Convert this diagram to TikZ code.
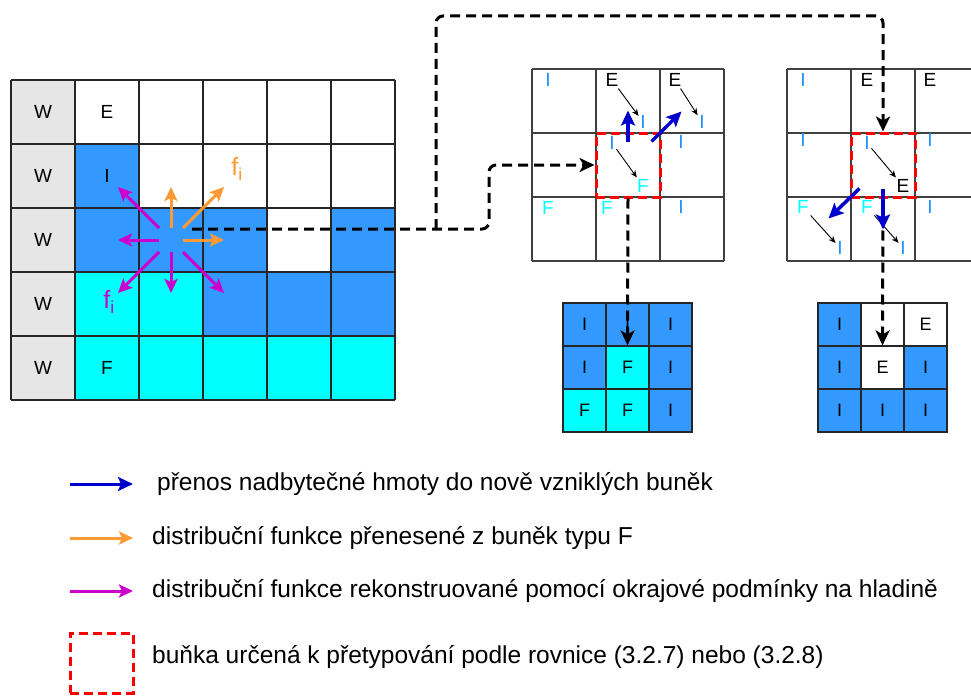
\documentclass[tikz,border=0pt]{standalone}
\usepackage{fontspec}
\setmainfont{Liberation Sans}
\usetikzlibrary{arrows.meta,calc}
\definecolor{wallgray}{HTML}{E6E6E6}
\definecolor{ifblue}{HTML}{3399FF}
\definecolor{fluidcyan}{HTML}{00FFFF}
\definecolor{lblblue}{HTML}{1E90FF}
\definecolor{massblue}{HTML}{0000CC}
\definecolor{distorange}{HTML}{FF9933}
\definecolor{distmagenta}{HTML}{CC00CC}
\tikzset{
  lbl/.style={inner sep=1pt, font=\fontsize{19}{22}\selectfont},
  smalllbl/.style={inner sep=1pt, font=\fontsize{19}{22}\selectfont},
  keytext/.style={anchor=west, inner sep=0pt, font=\fontsize{24.5}{28}\selectfont},
  bcell/.style={draw=black!85, line width=1.2pt, minimum size=43pt, inner sep=0pt, font=\fontsize{18}{21}\selectfont},
  redbox/.style={draw=red, line width=3pt, dash pattern=on 9pt off 5pt, minimum size=64pt, inner sep=0pt},
  flow/.style={line width=3pt, dash pattern=on 10pt off 6pt, rounded corners=7pt, -{Stealth[length=15pt,width=14pt,inset=4pt]}},
  orangearr/.style={distorange, line width=3pt, -{Stealth[length=14pt,width=13pt,inset=3pt]}},
  magarr/.style={distmagenta, line width=3pt, -{Stealth[length=14pt,width=13pt,inset=3pt]}},
  massarr/.style={massblue, line width=3.5pt, -{Stealth[length=15pt,width=14pt,inset=3pt]}},
  thinarr/.style={line width=0.9pt, shorten <=1pt, shorten >=1pt, -{Stealth[length=7pt,width=6pt]}}
}

\begin{document}
\begin{tikzpicture}[x=1pt, y=-1pt]
    \useasboundingbox (0,0) rectangle (971,698);
    \clip (0,0) rectangle (971,698);

    % left grid
    \fill[wallgray] (11,80) rectangle (75,400);
    \fill[ifblue] (75,144) rectangle (139,208);
    \fill[ifblue] (75,208) rectangle (267,272);
    \fill[ifblue] (331,208) rectangle (395,272);
    \fill[fluidcyan] (75,272) rectangle (203,336);
    \fill[ifblue] (203,272) rectangle (395,336);
    \fill[fluidcyan] (75,336) rectangle (395,400);
    \foreach \x in {11,75,139,203,267,331,395} \draw[black!85, line width=1.2pt] (\x,80) -- (\x,400);
    \foreach \y in {80,144,208,272,336,400} \draw[black!85, line width=1.2pt] (11,\y) -- (395,\y);
    \foreach \r in {1,...,5} \node[lbl] (lgW\r) at (43,48+64*\r) {W};
    \node[lbl] (lgE) at (107,112) {E};
    \node[lbl] (lgI) at (107,176) {I};
    \node[lbl] (lgF) at (107,368) {F};

    \coordinate (ctr) at (171,240);
    \foreach \dx/\dy in {0/-1,1/-1,1/0}
        \draw[orangearr] ($(ctr)+(12*\dx,12*\dy)$) -- ($(ctr)+(53*\dx,53*\dy)$);
    \foreach \dx/\dy in {-1/-1,-1/0,-1/1,0/1,1/1}
        \draw[magarr] ($(ctr)+(12*\dx,12*\dy)$) -- ($(ctr)+(53*\dx,53*\dy)$);
    \node[text=distorange, font=\fontsize{25}{28}\selectfont] (fo) at (237,169) {f\textsubscript{i}};
    \node[text=distmagenta, font=\fontsize{25}{28}\selectfont] (fm) at (109,302) {f\textsubscript{i}};

    % middle grid
    \foreach \x in {532,596,660,724} \draw[black!75, line width=1.2pt] (\x,69) -- (\x,261);
    \foreach \y in {69,133,197,261} \draw[black!75, line width=1.2pt] (532,\y) -- (724,\y);
    \node[smalllbl, text=lblblue] (mgI1) at (548,80) {I};
    \node[smalllbl] (mgE1) at (612,80) {E};
    \node[smalllbl, text=lblblue] (mgI2) at (643,122) {I};
    \node[smalllbl] (mgE2) at (675,80) {E};
    \node[smalllbl, text=lblblue] (mgI3) at (702,122) {I};
    \node[smalllbl, text=lblblue] (mgIc) at (612,143) {I};
    \node[smalllbl, text=fluidcyan] (mgFc) at (643,186) {F};
    \node[smalllbl, text=lblblue] (mgI4) at (681,142) {I};
    \node[smalllbl, text=fluidcyan] (mgF1) at (548,208) {F};
    \node[smalllbl, text=fluidcyan] (mgF2) at (607,208) {F};
    \node[smalllbl, text=lblblue] (mgI5) at (681,207) {I};
    \draw[thinarr] (mgE1) -- (mgI2);
    \draw[thinarr] (mgE2) -- (mgI3);
    \draw[thinarr] (mgIc) -- (mgFc);

    % right grid
    \foreach \x in {787,851,915,979} \draw[black!75, line width=1.2pt] (\x,69) -- (\x,261);
    \foreach \y in {69,133,197,261} \draw[black!75, line width=1.2pt] (787,\y) -- (979,\y);
    \node[smalllbl, text=lblblue] (rgI1) at (803,80) {I};
    \node[smalllbl] (rgE1) at (867,80) {E};
    \node[smalllbl] (rgE2) at (930,80) {E};
    \node[smalllbl, text=lblblue] (rgI2) at (803,140) {I};
    \node[smalllbl, text=lblblue] (rgIc) at (867,143) {I};
    \node[smalllbl] (rgEc) at (903,186) {E};
    \node[smalllbl, text=lblblue] (rgI3) at (930,140) {I};
    \node[smalllbl, text=fluidcyan] (rgF1) at (803,207) {F};
    \node[smalllbl, text=lblblue] (rgI4) at (840,248) {I};
    \node[smalllbl, text=fluidcyan] (rgF2) at (867,207) {F};
    \node[smalllbl, text=lblblue] (rgI5) at (903,248) {I};
    \node[smalllbl, text=lblblue] (rgI6) at (930,207) {I};
    \draw[thinarr] (rgIc) -- (rgEc);
    \draw[thinarr] (rgF1) -- (rgI4);
    \draw[thinarr] (rgF2) -- (rgI5);

    % bottom grids
    \node[bcell, fill=ifblue] (bl11) at (584.5,324.5) {I};
    \node[bcell, fill=ifblue] (bl12) at (627.5,324.5) {I};
    \node[bcell, fill=ifblue] (bl13) at (670.5,324.5) {I};
    \node[bcell, fill=ifblue] (bl21) at (584.5,367.5) {I};
    \node[bcell, fill=fluidcyan] (bl22) at (627.5,367.5) {F};
    \node[bcell, fill=ifblue] (bl23) at (670.5,367.5) {I};
    \node[bcell, fill=fluidcyan] (bl31) at (584.5,410.5) {F};
    \node[bcell, fill=fluidcyan] (bl32) at (627.5,410.5) {F};
    \node[bcell, fill=ifblue] (bl33) at (670.5,410.5) {I};
    \node[bcell, fill=ifblue] (br11) at (839.5,324.5) {I};
    \node[bcell, fill=white] (br12) at (882.5,324.5) {};
    \node[bcell, fill=white] (br13) at (925.5,324.5) {E};
    \node[bcell, fill=ifblue] (br21) at (839.5,367.5) {I};
    \node[bcell, fill=white] (br22) at (882.5,367.5) {E};
    \node[bcell, fill=ifblue] (br23) at (925.5,367.5) {I};
    \node[bcell, fill=ifblue] (br31) at (839.5,410.5) {I};
    \node[bcell, fill=ifblue] (br32) at (882.5,410.5) {I};
    \node[bcell, fill=ifblue] (br33) at (925.5,410.5) {I};

    % cells to retype
    \node[redbox] (rm) at (628,165) {};
    \node[redbox] (rr) at (883,165) {};

    \coordinate (src) at (192,229);
    \coordinate (br) at (436,229);
    \coordinate (top) at (883,16);
    \draw[flow] (src) -- (489,229) |- (rm.west);
    \draw[flow] (br) |- (top) -- (rr.north);
    \draw[flow] (rm.south) -- (bl22.north);
    \draw[flow] (rr.south) -- (br22.north);

    \draw[massarr] ($(rm.north)+(0,10)$) -- ($(rm.north)+(0,-21)$);
    \draw[massarr] ($(rm.north east)+(-10,10)$) -- ($(rm.north east)+(20,-20)$);
    \draw[massarr] ($(rr.south west)+(10,-10)$) -- ($(rr.south west)+(-21,20)$);
    \draw[massarr] ($(rr.south)+(0,-10)$) -- ($(rr.south)+(0,31)$);

    % legend
    \draw[massarr, line width=3pt] (70,484) -- (133,484);
    \node[keytext] (key1) at (157,484) {přenos nadbytečné hmoty do nově vzniklých buněk};
    \draw[orangearr] (70,538) -- (133,538);
    \node[keytext] (key2) at (152,538) {distribuční funkce přenesené z buněk typu F};
    \draw[magarr] (70,591) -- (133,591);
    \node[keytext] (key3) at (152,591) {distribuční funkce rekonstruované pomocí okrajové podmínky na hladině};
    \node[redbox, minimum width=63pt, minimum height=60pt] (key4box) at (101.5,663) {};
    \node[keytext] (key4) at (152,657) {buňka určená k přetypování podle rovnice (3.2.7) nebo (3.2.8)};
\end{tikzpicture}
\end{document}
